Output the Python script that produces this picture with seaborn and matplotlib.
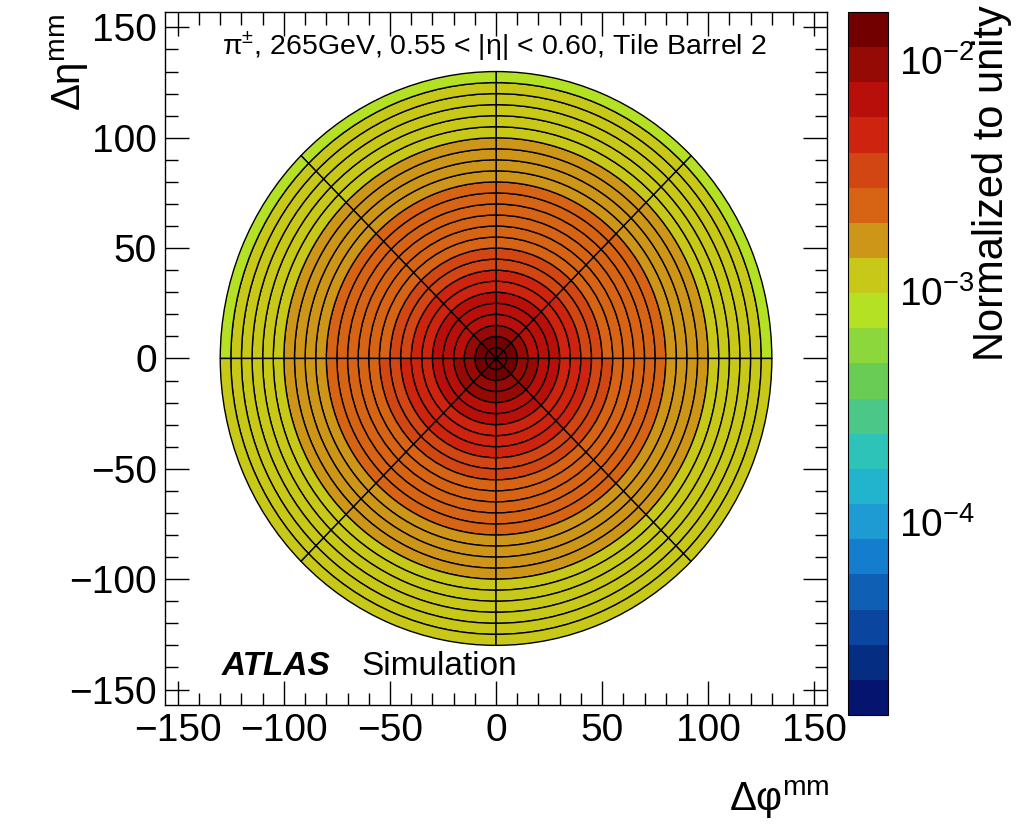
import numpy as np
import matplotlib
matplotlib.use("Agg")
import matplotlib.pyplot as plt
import seaborn as sns
from matplotlib.patches import Wedge
from matplotlib.collections import PatchCollection
from matplotlib.colors import ListedColormap, LogNorm
from matplotlib.ticker import MultipleLocator, LogLocator, NullFormatter

# radial bin edges (mm) and azimuthal sector edges (deg)
r_edges = [0, 5, 10, 15, 20, 25, 30, 35, 40, 45, 50, 55, 60, 65,
           70, 75, 80, 85, 90, 95, 100, 105, 110, 115, 120, 125, 130]
phi_edges = [0, 45, 90, 135, 180, 225, 270, 315, 360]

# normalized energy per bin, ring by ring from the centre outwards
upper_half = [1.58e-2, 1.20e-2, 9.5e-3, 7.8e-3, 6.6e-3, 5.8e-3, 5.0e-3,
              4.3e-3, 3.8e-3, 3.2e-3, 2.7e-3, 2.5e-3, 2.35e-3, 2.2e-3,
              2.1e-3, 2.0e-3, 1.85e-3, 1.7e-3, 1.55e-3, 1.42e-3, 1.3e-3,
              1.2e-3, 1.12e-3, 1.05e-3, 1.0e-3, 9.0e-4]
lower_half = [1.52e-2, 1.25e-2, 1.08e-2, 8.6e-3, 7.4e-3, 6.1e-3, 5.3e-3,
              4.6e-3, 4.1e-3, 3.7e-3, 3.1e-3, 2.75e-3, 2.5e-3, 2.3e-3,
              2.15e-3, 2.0e-3, 1.9e-3, 1.75e-3, 1.6e-3, 1.45e-3, 1.35e-3,
              1.28e-3, 1.2e-3, 1.12e-3, 1.06e-3, 1.02e-3]

z_min, z_max = 1.47e-5, 1.61e-2

# 20-level palette, low to high
palette = [(5, 20, 110), (5, 45, 130), (10, 70, 160), (15, 95, 180),
           (20, 125, 205), (30, 155, 210), (35, 180, 205), (45, 195, 185),
           (75, 200, 135), (105, 205, 85), (140, 215, 60), (180, 225, 35),
           (200, 200, 25), (205, 150, 25), (215, 100, 20), (210, 70, 20),
           (205, 35, 15), (185, 15, 10), (150, 10, 5), (115, 0, 0)]


def main():
    sns.set_style("ticks")
    plt.rcParams["font.family"] = ["Liberation Sans", "DejaVu Sans"]
    plt.rcParams["mathtext.fontset"] = "custom"
    plt.rcParams["mathtext.rm"] = "Liberation Sans"
    plt.rcParams["axes.unicode_minus"] = True
    for k in ["text.color", "axes.labelcolor", "xtick.color", "ytick.color", "axes.edgecolor"]:
        plt.rcParams[k] = "black"

    cmap = ListedColormap(sns.color_palette([tuple(c / 255 for c in p) for p in palette]))
    norm = LogNorm(vmin=z_min, vmax=z_max)

    fig = plt.figure(figsize=(10.19, 8.25), dpi=100)
    ax = fig.add_axes([0.162, 0.1455, 0.6496, 0.84])
    cax = fig.add_axes([0.832, 0.1333, 0.039, 0.8522])

    # one wedge per (sector, ring) bin
    patches, vals = [], []
    for i in range(len(phi_edges) - 1):
        prof = upper_half if phi_edges[i] < 180 else lower_half
        for j in range(len(r_edges) - 1):
            w = None if r_edges[j] == 0 else r_edges[j + 1] - r_edges[j]
            patches.append(Wedge((0, 0), r_edges[j + 1], phi_edges[i], phi_edges[i + 1], width=w))
            vals.append(prof[j])

    coll = PatchCollection(patches, cmap=cmap, norm=norm, edgecolor="black", linewidth=1.0)
    coll.set_array(np.array(vals))
    ax.add_collection(coll)

    ax.set_xlim(-156, 156)
    ax.set_ylim(-157, 157)
    ax.xaxis.set_major_locator(MultipleLocator(50))
    ax.yaxis.set_major_locator(MultipleLocator(50))
    ax.xaxis.set_minor_locator(MultipleLocator(10))
    ax.yaxis.set_minor_locator(MultipleLocator(10))
    ax.tick_params(which="both", direction="in", top=True, right=True, width=1.0, color="black")
    ax.tick_params(which="major", length=17, labelsize=28, pad=6)
    ax.tick_params(which="minor", length=9)
    for s in ax.spines.values():
        s.set_linewidth(1.0)

    ax.text(0.497, 0.95, "π$^{\\pm}$, 265GeV, 0.55 < |η| < 0.60, Tile Barrel 2",
            transform=ax.transAxes, ha="center", va="center", fontsize=20.5)
    ax.text(0.086, 0.055, "ATLAS", transform=ax.transAxes, ha="left", va="center",
            fontsize=24, fontweight="bold", fontstyle="italic")
    ax.text(0.296, 0.055, "Simulation", transform=ax.transAxes, ha="left", va="center",
            fontsize=24)

    fig.text(70 / 1019, 1 - 14 / 825, r"$\mathregular{Δη^{mm}}$", rotation=90,
             ha="center", va="top", fontsize=29)
    fig.text(830 / 1019, 1 - 800 / 825, r"$\mathregular{Δφ^{mm}}$",
             ha="right", va="center", fontsize=29)

    cb = fig.colorbar(coll, cax=cax)
    cb.outline.set_linewidth(0.8)
    cax.yaxis.set_minor_locator(LogLocator(base=10, subs=range(2, 10)))
    cax.yaxis.set_minor_formatter(NullFormatter())
    cax.tick_params(which="both", direction="in", right=True, left=False, color="black", width=1.0)
    cax.tick_params(which="major", length=17, labelsize=28, pad=8)
    cax.tick_params(which="minor", length=9)
    fig.text(992 / 1019, 1 - 5 / 825, "Normalized to unity", rotation=90,
             ha="center", va="top", fontsize=30)

    fig.savefig("out.png", dpi=100)
    plt.close(fig)


if __name__ == "__main__":
    main()
